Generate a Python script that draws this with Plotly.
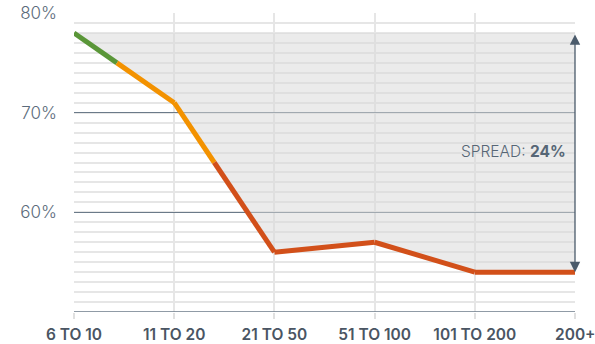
import plotly.graph_objects as go

categories = ["6 TO 10", "11 TO 20", "21 TO 50", "51 TO 100", "101 TO 200", "200+"]
values = [78, 71, 56, 57, 54, 54]
band_high = 75   # green above
band_low = 65    # red below
colors = {"high": "#5a9638", "mid": "#f39200", "low": "#d2501a"}

xs = list(range(len(categories)))
top = max(values)
spread = max(values) - min(values)
FONT = "Inter"
XFONT = dict(size=15.5, color="#4a5563", family=FONT, weight=600)


def band(v):
    if v >= band_high:
        return "high"
    if v >= band_low:
        return "mid"
    return "low"


# split line into pieces at the band thresholds
pieces = []
for i in range(len(xs) - 1):
    x0, y0, x1, y1 = xs[i], values[i], xs[i + 1], values[i + 1]
    cuts = [0.0, 1.0]
    for th in (band_high, band_low):
        if (y0 - th) * (y1 - th) < 0:
            cuts.append((th - y0) / (y1 - y0))
    cuts.sort()
    for a, b in zip(cuts[:-1], cuts[1:]):
        pa = (x0 + a * (x1 - x0), y0 + a * (y1 - y0))
        pb = (x0 + b * (x1 - x0), y0 + b * (y1 - y0))
        pieces.append((band((pa[1] + pb[1]) / 2), pa, pb))

fig = go.Figure()

# shaded spread area
fig.add_trace(go.Scatter(x=xs, y=[top] * len(xs), mode="lines",
                         line=dict(width=0), hoverinfo="skip", showlegend=False))
fig.add_trace(go.Scatter(x=xs, y=values, mode="lines", line=dict(width=0),
                         fill="tonexty", fillcolor="rgba(215,215,215,0.5)",
                         hoverinfo="skip", showlegend=False))

for key in ("high", "mid", "low"):
    px, py = [], []
    for k, pa, pb in pieces:
        if k == key:
            px += [pa[0], pb[0], None]
            py += [pa[1], pb[1], None]
    fig.add_trace(go.Scatter(x=px, y=py, mode="lines",
                             line=dict(color=colors[key], width=5),
                             showlegend=False, hoverinfo="skip"))

# spread arrow
fig.add_annotation(x=xs[-1], y=min(values), ax=xs[-1], ay=top,
                   xref="x", yref="y", axref="x", ayref="y",
                   showarrow=True, arrowside="end+start", arrowhead=2,
                   arrowsize=1.6, arrowwidth=1.3, arrowcolor="#4b5b6b", text="")
fig.add_annotation(x=xs[-1], y=(top + min(values)) / 2 + 0.1, xref="x", yref="y",
                   text=f"SPREAD: <b>{spread}%</b>", showarrow=False,
                   xanchor="right", xshift=-7,
                   font=dict(size=15.5, color="#566676", family=FONT, weight=300))

# last category label (sits at the page edge, so placed as an annotation)
fig.add_annotation(x=xs[-1], y=0, xref="x", yref="paper", yanchor="top",
                   yshift=-11, text=categories[-1], showarrow=False,
                   xanchor="center", font=XFONT)

fig.update_layout(
    width=595, height=344,
    margin=dict(l=74, r=20, t=13, b=32),
    paper_bgcolor="white", plot_bgcolor="white",
    font=dict(family=FONT, color="#566676"),
)
fig.update_xaxes(
    range=[0, 5], tickmode="array", tickvals=xs,
    ticktext=categories[:-1] + [""],
    showgrid=True, gridcolor="#e6e6e6", gridwidth=1.5,
    ticks="outside", ticklen=6, tickcolor="#e0e0e0", tickwidth=1.5,
    tickfont=XFONT,
    ticklabelstandoff=2,
    zeroline=False, showline=False, automargin=False,
)
fig.update_yaxes(
    range=[50, 80], tickmode="array", tickvals=[60, 70, 80],
    ticktext=["60%", "70%", "80%"],
    showgrid=True, gridcolor="#6b7a89", gridwidth=1,
    minor=dict(dtick=1, tick0=50, showgrid=True, gridcolor="#e6e6e6", gridwidth=1.5),
    tickfont=dict(size=17, color="#5b6b7b", family=FONT, weight=300),
    ticklabelstandoff=16, zeroline=False,
    showline=False, automargin=False,
)
# bottom baseline
fig.add_shape(type="line", xref="paper", yref="y", x0=0, x1=1, y0=50, y1=50,
              line=dict(color="#6b7a89", width=1.5))

fig.write_html("out.html")
